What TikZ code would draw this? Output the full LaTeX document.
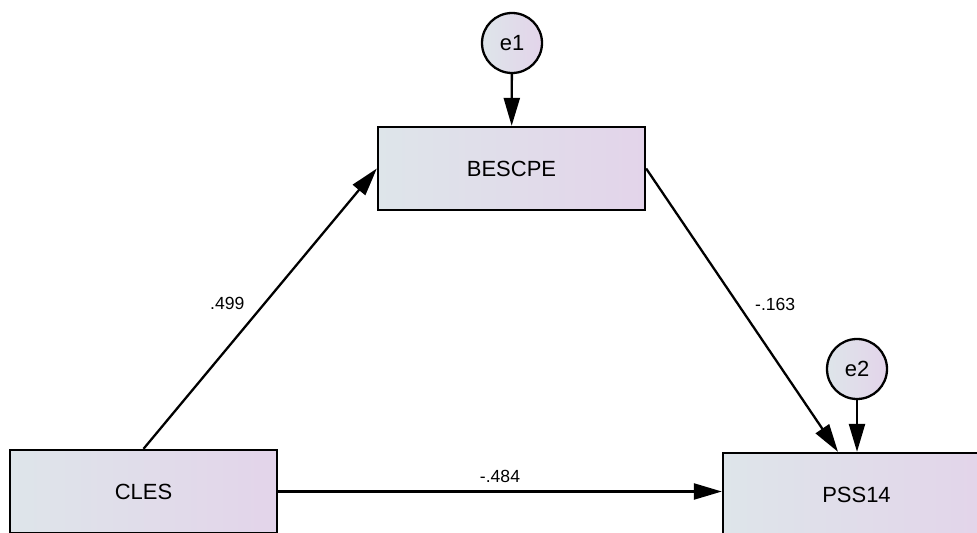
\documentclass[tikz,border=0pt]{standalone}
\usepackage{fontspec}
\setmainfont{Liberation Sans}
\usepackage{xcolor}
\usetikzlibrary{arrows.meta, positioning}
\definecolor{boxleft}{RGB}{222,229,234}
\definecolor{boxright}{RGB}{227,212,234}

\begin{document}
\begin{tikzpicture}[
  var/.style={rectangle, draw=black, line width=1.3pt, left color=boxleft, right color=boxright, minimum width=5.34cm, minimum height=1.66cm, align=center, font=\fontsize{12.5}{14}\selectfont},
  err/.style={circle, draw=black, line width=1.3pt, left color=boxleft, right color=boxright, minimum size=1.2cm, inner sep=0pt, font=\fontsize{12.5}{14}\selectfont},
  effect/.style={-{Triangle[length=0.56cm, width=0.32cm]}, line width=1.3pt},
  coef/.style={font=\fontsize{10}{12}\selectfont, inner sep=1pt}
]
\useasboundingbox (0,0) rectangle (19.54,10.64);
\clip (0,0) rectangle (19.54,10.64);

\node[var] (bescpe) at (10.23,7.27) {BESCPE};
\node[var] (cles) at (2.87,0.81) {CLES};
\node[var] (pss) at (17.13,0.75) {PSS14};
\node[err] (e1) at (10.24,9.78) {e1};
\node[err] (e2) at (17.14,3.26) {e2};

\draw[effect] (e1) -- (bescpe);
\draw[effect] (e2) -- (e2 |- pss.north);
\draw[effect] (cles.north) -- node[coef, pos=0.52, xshift=-0.75cm]{.499} (bescpe.west);
\draw[effect] (bescpe.east) -- node[coef, pos=0.48, xshift=0.74cm]{-.163} ([xshift=-0.37cm]pss.north);
\draw[effect] (cles.east) -- node[coef, above=0.12cm]{-.484} (cles.east -| pss.west);
\end{tikzpicture}
\end{document}
